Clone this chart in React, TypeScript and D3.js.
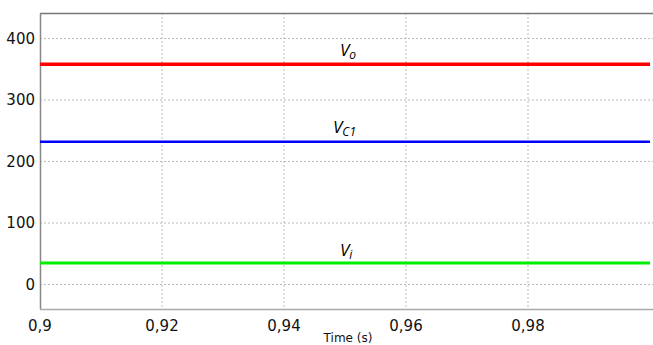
import React from "react";
import * as d3 from "d3";

const timeSamples = [0.9, 0.925, 0.95, 0.975, 1.0];
const voValues = [358, 358, 358, 358, 358];
const vc1Values = [232, 232, 232, 232, 232];
const viValues = [35, 35, 35, 35, 35];
const xTicks = [0.9, 0.92, 0.94, 0.96, 0.98];
const xTickLabels = ["0,9", "0,92", "0,94", "0,96", "0,98"];
const yTicks = [0, 100, 200, 300, 400];

const W = 653, H = 345;
const left = 40, right = 653, top = 13, bottom = 309;

export default function App() {
  const x = d3.scaleLinear().domain([0.9, 1.0]).range([left, 650]);
  const y = d3.scaleLinear().domain([0, 400]).range([284.5, 38.5]);
  const line = (vals: number[]) =>
    d3.line<number>().x((_, i) => x(timeSamples[i])).y((v) => y(v))(vals) || "";
  const font = "'DejaVu Sans', Verdana, sans-serif";
  const series = [
    { vals: voValues, color: "#ff0000", w: 3.5, label: "V", sub: "o", lx: 340, ly: 56 },
    { vals: vc1Values, color: "#0000ff", w: 2.5, label: "V", sub: "C1", lx: 333, ly: 133 },
    { vals: viValues, color: "#00ee00", w: 3, label: "V", sub: "i", lx: 340, ly: 256 },
  ];
  return (
    <svg width={W} height={H} style={{ position: "absolute", left: 0, top: 0, background: "#fff" }}>
      {yTicks.map((t) => (
        <line key={"gy" + t} x1={left} x2={right} y1={y(t)} y2={y(t)} stroke="#bbb" strokeDasharray="2,2" strokeWidth={1} />
      ))}
      {xTicks.slice(1).map((t) => (
        <line key={"gx" + t} x1={x(t)} x2={x(t)} y1={top} y2={bottom} stroke="#bbb" strokeDasharray="2,2" strokeWidth={1} />
      ))}
      <line x1={left} x2={right} y1={top + 0.5} y2={top + 0.5} stroke="#777" strokeWidth={1.5} />
      <line x1={left + 0.5} x2={left + 0.5} y1={top} y2={bottom} stroke="#888" strokeWidth={1.5} />
      <line x1={left} x2={right} y1={bottom + 0.5} y2={bottom + 0.5} stroke="#aaa" strokeWidth={1.5} />
      {series.map((s, i) => (
        <path key={"s" + i} d={line(s.vals)} fill="none" stroke={s.color} strokeWidth={s.w} />
      ))}
      {series.map((s, i) => (
        <text key={"l" + i} x={s.lx} y={s.ly} fontFamily="'Open Sans', sans-serif" fontStyle="italic" fontSize={17} fill="#000">
          {s.label}
          <tspan fontSize={12} dy={3}>{s.sub}</tspan>
        </text>
      ))}
      {yTicks.map((t) => (
        <text key={"ty" + t} x={35} y={y(t) + 5} textAnchor="end" fontFamily={font} fontSize={15} fill="#111">
          {t}
        </text>
      ))}
      {xTicks.map((t, i) => (
        <text key={"tx" + t} x={x(t)} y={331} textAnchor="middle" fontFamily={font} fontSize={15} fill="#111">
          {xTickLabels[i]}
        </text>
      ))}
      <text x={348} y={342} textAnchor="middle" fontFamily={font} fontSize={12} fill="#111">Time (s)</text>
    </svg>
  );
}
